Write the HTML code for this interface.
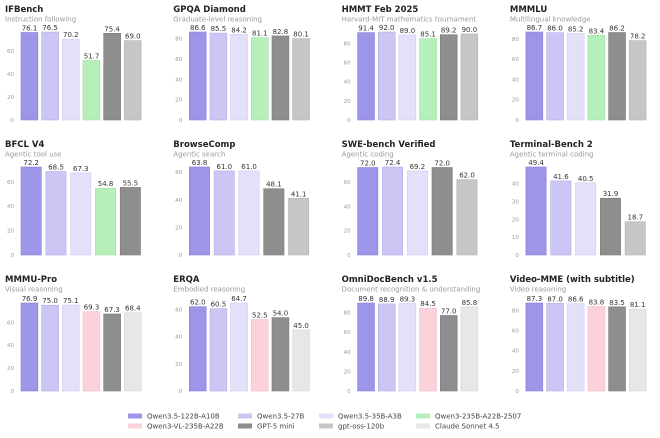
<!DOCTYPE html>
<html><head><meta charset="utf-8"><style>
html,body{margin:0;padding:0;background:#fff;width:660px;height:438px;overflow:hidden}
svg{display:block;font-family:"DejaVu Sans","Liberation Sans",sans-serif}
</style></head><body>
<svg id="s" width="660" height="438" viewBox="0 0 660 438"></svg>
<script>
var C={a:["#9d95e8","#8a80d8"],b:["#cbc6f3","#b5aeea"],c:["#e3e1f9","#cfcbf2"],g:["#b7efba","#a0e0a4"],p:["#fbd2da","#f3bcc8"],m:["#8e8e8e","#7a7a7a"],o:["#c6c6c6","#b4b4b4"],l:["#e7e7e7","#d8d8d8"]};
var P=[
["IFBench","Instruction following",[["a",76.1],["b",76.5],["c",70.2],["g",51.7],["m",75.4],["o",69.0]]],
["GPQA Diamond","Graduate-level reasoning",[["a",86.6],["b",85.5],["c",84.2],["g",81.1],["m",82.8],["o",80.1]]],
["HMMT Feb 2025","Harvard-MIT mathematics tournament",[["a",91.4],["b",92.0],["c",89.0],["g",85.1],["m",89.2],["o",90.0]]],
["MMMLU","Multilingual knowledge",[["a",86.7],["b",86.0],["c",85.2],["g",83.4],["m",86.2],["o",78.2]]],
["BFCL V4","Agentic tool use",[["a",72.2],["b",68.5],["c",67.3],["g",54.8],["m",55.5]]],
["BrowseComp","Agentic search",[["a",63.8],["b",61.0],["c",61.0],["m",48.1],["o",41.1]]],
["SWE-bench Verified","Agentic coding",[["a",72.0],["b",72.4],["c",69.2],["m",72.0],["o",62.0]]],
["Terminal-Bench 2","Agentic terminal coding",[["a",49.4],["b",41.6],["c",40.5],["m",31.9],["o",18.7]]],
["MMMU-Pro","Visual reasoning",[["a",76.9],["b",75.0],["c",75.1],["p",69.3],["m",67.3],["l",68.4]]],
["ERQA","Embodied reasoning",[["a",62.0],["b",60.5],["c",64.7],["p",52.5],["m",54.0],["l",45.0]]],
["OmniDocBench v1.5","Document recognition & understanding",[["a",89.8],["b",88.9],["c",89.3],["p",84.5],["m",77.0],["l",85.8]]],
["Video-MME (with subtitle)","Video reasoning",[["a",87.3],["b",87.0],["b2",86.6],["p",83.8],["m",83.5],["l",81.1]]]
];
P[11][2][2][0]="c";
var h="";
var base=[120,255,391],ty=[12,147,282];
P.forEach(function(p,i){
 var col=i%4,row=Math.floor(i/4),ox=col*168.3,B=base[row];
 h+='<text x="'+(ox+5)+'" y="'+ty[row]+'" font-size="8.5" font-weight="bold" fill="#222">'+p[0].replace("&","&amp;")+'</text>';
 h+='<text x="'+(ox+5)+'" y="'+(ty[row]+9.5)+'" font-size="7" fill="#999">'+p[1].replace("&","&amp;")+'</text>';
 var mx=Math.max.apply(null,p[2].map(function(d){return d[1]})),sc=88/mx,st=mx<60?10:20;
 for(var t=0;t<=mx;t+=st){h+='<text x="'+(ox+14)+'" y="'+(B-t*sc+2)+'" font-size="5.5" fill="#999" text-anchor="end">'+t+'</text>';}
 var n=p[2].length,pitch=124/n,w=pitch*0.82;
 p[2].forEach(function(d,j){
  var x=ox+21+j*pitch,hh=d[1]*sc,c=C[d[0]];
  h+='<rect x="'+x.toFixed(1)+'" y="'+(B-hh).toFixed(1)+'" width="'+w.toFixed(1)+'" height="'+hh.toFixed(1)+'" fill="'+c[0]+'" stroke="'+c[1]+'" stroke-width="0.6"/>';
  h+='<text x="'+(x+w/2).toFixed(1)+'" y="'+(B-hh-2).toFixed(1)+'" font-size="7" fill="#333" text-anchor="middle">'+d[1].toFixed(1)+'</text>';
 });
});
var L=[["a","Qwen3.5-122B-A10B",128,416],["b","Qwen3.5-27B",238,416],["c","Qwen3.5-35B-A3B",319,416],["g","Qwen3-235B-A22B-2507",416,416],
["p","Qwen3-VL-235B-A22B",128,426],["m","GPT-5 mini",238,426],["o","gpt-oss-120b",319,426],["l","Claude Sonnet 4.5",416,426]];
L.forEach(function(l){h+='<rect x="'+l[2]+'" y="'+(l[3]-2.5)+'" width="14" height="5" fill="'+C[l[0]][0]+'"/><text x="'+(l[2]+19)+'" y="'+(l[3]+2.5)+'" font-size="7" fill="#444">'+l[1]+'</text>';});
document.getElementById("s").innerHTML=h;
</script>
</body></html>
